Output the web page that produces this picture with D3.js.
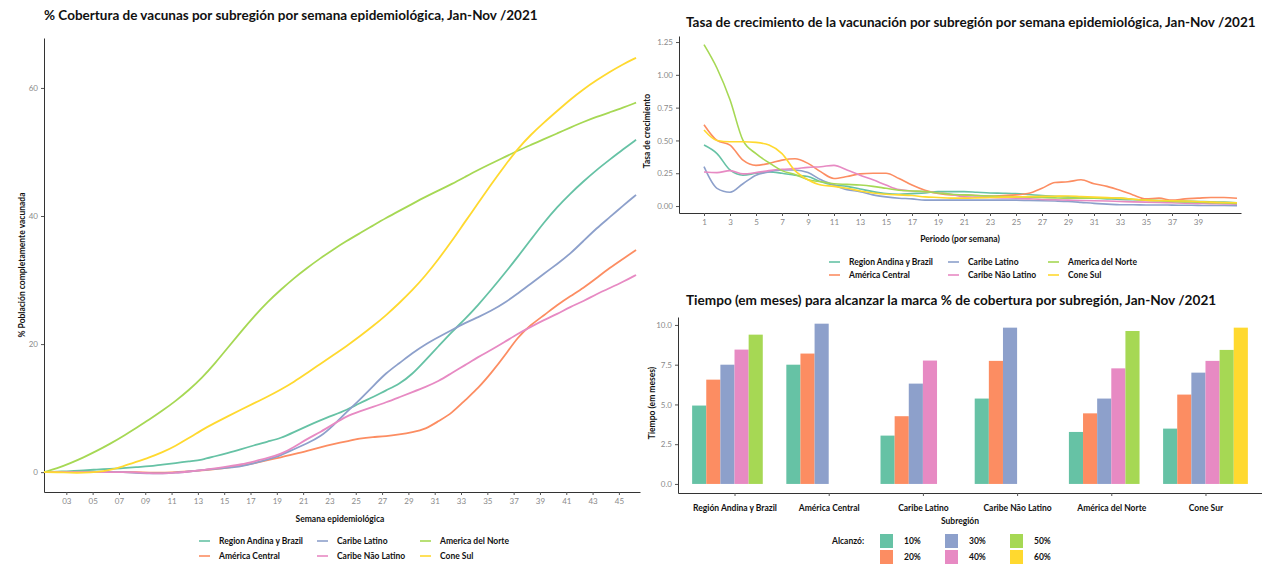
<!DOCTYPE html>
<html>
<head>
<meta charset="utf-8">
<script src="https://cdn.jsdelivr.net/npm/d3@7"></script>
<style>
  body { margin: 0; background: #fff; }
  svg text { font-family: Lato, "Open Sans", sans-serif; }
  .tick text { fill: #8a8a8a; font-size: 8px; }
  .tick line { stroke: #555; }
  .domain { stroke: #333; }
</style>
</head>
<body>
<div id="chart"></div>
<script>
// ---- data: cumulative coverage (%) by epidemiological week 1..46
const weeks = d3.range(1, 47);
const andina = [0, 0.1, 0.15, 0.3, 0.4, 0.5, 0.6, 0.8, 0.9, 1.2, 1.4, 1.7, 1.9, 2.5, 3.0, 3.6, 4.2, 4.8, 5.3, 6.25,
  7.2, 8.1, 8.9, 9.7, 10.8, 11.7, 12.8, 13.75, 15.3, 17.5, 19.7, 21.9, 23.9, 26.1, 28.5, 31.0, 33.6, 36.3, 39.0, 41.4,
  43.5, 45.4, 47.2, 48.8, 50.4, 51.9];
const central = [0, 0, 0, 0, 0, 0, 0, 0, -0.1, -0.1, 0, 0.1, 0.25, 0.5, 0.7, 1.0, 1.4, 1.9, 2.3, 2.8,
  3.3, 3.9, 4.4, 4.8, 5.3, 5.5, 5.6, 5.9, 6.25, 6.7, 8.0, 9.2, 11.25, 13.1, 15.5, 18.1, 21.1, 23.0, 24.5, 26.1,
  27.5, 28.75, 30.3, 31.9, 33.3, 34.7];
const caribeLatino = [0, 0, 0, 0, 0, 0.05, 0, -0.1, -0.2, -0.2, -0.1, 0.1, 0.3, 0.5, 0.7, 0.9, 1.4, 2.0, 2.6, 3.6,
  4.5, 5.5, 7.3, 9.4, 11.3, 13.4, 15.5, 17.0, 18.6, 20.0, 21.1, 22.2, 23.3, 24.2, 25.2, 26.4, 27.9, 29.4, 31.0, 32.5,
  34.1, 36.1, 38.1, 39.8, 41.6, 43.3];
const caribeNoLatino = [0, 0, 0, 0, 0, 0, 0, 0, -0.2, -0.2, -0.1, 0.1, 0.3, 0.6, 0.9, 1.2, 1.7, 2.2, 2.8, 3.9,
  5.2, 6.25, 7.5, 8.75, 9.5, 10.2, 10.9, 11.7, 12.5, 13.3, 14.2, 15.5, 16.7, 18.0, 19.1, 20.3, 21.6, 22.7, 23.75, 24.7,
  25.8, 26.7, 27.8, 28.75, 29.7, 30.8];
const norte = [0, 0.6, 1.4, 2.3, 3.3, 4.4, 5.6, 6.9, 8.2, 9.6, 11.1, 12.8, 14.7, 17.0, 19.5, 22.0, 24.4, 26.6, 28.5, 30.3,
  31.9, 33.4, 34.8, 36.1, 37.3, 38.5, 39.7, 40.8, 41.9, 43.0, 44.0, 45.0, 46.1, 47.2, 48.2, 49.2, 50.2, 51.1, 52.0, 52.9,
  53.8, 54.7, 55.5, 56.2, 56.9, 57.7];
const coneSul = [0, 0, -0.1, -0.1, 0, 0.3, 0.9, 1.6, 2.3, 3.1, 4.1, 5.3, 6.6, 7.7, 8.75, 9.8, 10.8, 11.8, 12.9, 14.1,
  15.5, 16.9, 18.3, 19.7, 21.2, 22.8, 24.5, 26.4, 28.4, 30.7, 33.3, 36.1, 39.1, 42.0, 45.0, 47.8, 50.5, 52.7, 54.6, 56.4,
  58.2, 59.8, 61.2, 62.5, 63.7, 64.7];

// ---- data: growth rate by period 1..42
const periods = d3.range(1, 43);
const rateAndina = [0.465, 0.40, 0.275, 0.235, 0.25, 0.26, 0.25, 0.235, 0.225, 0.185, 0.16, 0.15, 0.13, 0.11, 0.095, 0.09,
  0.095, 0.10, 0.11, 0.11, 0.11, 0.105, 0.10, 0.098, 0.095, 0.088, 0.08, 0.075, 0.07, 0.065, 0.06, 0.055, 0.05, 0.048,
  0.045, 0.042, 0.04, 0.038, 0.035, 0.032, 0.03, 0.025];
const rateCentral = [0.62, 0.50, 0.465, 0.35, 0.31, 0.325, 0.35, 0.36, 0.325, 0.26, 0.21, 0.225, 0.245, 0.25, 0.25, 0.21,
  0.16, 0.12, 0.095, 0.085, 0.085, 0.08, 0.076, 0.08, 0.085, 0.097, 0.135, 0.18, 0.185, 0.20, 0.17, 0.15, 0.12, 0.085,
  0.055, 0.06, 0.045, 0.055, 0.06, 0.065, 0.065, 0.06];
const rateCaribeLatino = [0.30, 0.135, 0.105, 0.17, 0.235, 0.26, 0.275, 0.275, 0.255, 0.20, 0.16, 0.125, 0.11, 0.085, 0.07,
  0.06, 0.055, 0.045, 0.045, 0.045, 0.045, 0.045, 0.045, 0.045, 0.045, 0.042, 0.04, 0.038, 0.035, 0.028, 0.02, 0.015,
  0.01, 0.01, 0.008, 0.008, 0.007, 0.006, 0.005, 0.004, 0.004, 0.003];
const rateCaribeNoLatino = [0.26, 0.255, 0.27, 0.245, 0.255, 0.27, 0.28, 0.285, 0.295, 0.30, 0.31, 0.275, 0.235, 0.20, 0.16,
  0.125, 0.115, 0.11, 0.10, 0.09, 0.07, 0.068, 0.065, 0.062, 0.06, 0.055, 0.05, 0.048, 0.045, 0.042, 0.04, 0.038, 0.035,
  0.032, 0.03, 0.028, 0.025, 0.022, 0.02, 0.018, 0.016, 0.015];
const rateNorte = [1.23, 1.05, 0.81, 0.50, 0.40, 0.33, 0.27, 0.24, 0.20, 0.185, 0.17, 0.165, 0.16, 0.15, 0.135, 0.12, 0.115,
  0.11, 0.10, 0.09, 0.085, 0.08, 0.076, 0.073, 0.07, 0.068, 0.065, 0.062, 0.06, 0.06, 0.06, 0.06, 0.06, 0.052, 0.045,
  0.04, 0.035, 0.032, 0.03, 0.026, 0.023, 0.02];
const rateConeSul = [0.58, 0.50, 0.49, 0.49, 0.485, 0.465, 0.40, 0.27, 0.20, 0.16, 0.15, 0.135, 0.115, 0.10, 0.09, 0.085,
  0.08, 0.07, 0.065, 0.06, 0.06, 0.062, 0.065, 0.068, 0.07, 0.072, 0.074, 0.075, 0.076, 0.072, 0.068, 0.064, 0.06, 0.052,
  0.045, 0.042, 0.04, 0.038, 0.035, 0.03, 0.027, 0.025];

// ---- data: months to reach coverage mark, by subregion
const subregiones = ["Región Andina y Brazil", "América Central", "Caribe Latino", "Caribe Não Latino", "América del Norte", "Cone Sur"];
const marcas = ["10%", "20%", "30%", "40%", "50%", "60%"];
const alc10 = [4.93, 7.5, 3.04, 5.37, 3.27, 3.48];
const alc20 = [6.56, 8.2, 4.26, 7.74, 4.44, 5.62];
const alc30 = [7.5, 10.08, 6.31, 9.83, 5.37, 7.0];
const alc40 = [8.45, null, 7.76, null, 7.27, 7.74];
const alc50 = [9.39, null, null, null, 9.62, 8.43];
const alc60 = [null, null, null, null, null, 9.83];

const seriesNames = ["Region Andina y Brazil", "América Central", "Caribe Latino", "Caribe Não Latino", "America del Norte", "Cone Sul"];
const palette = ["#66c2a5", "#fc8d62", "#8da0cb", "#e78ac3", "#a6d854", "#ffd92f"];
const color = d3.scaleOrdinal().domain(seriesNames).range(palette);

const svg = d3.select("#chart").append("svg")
  .attr("width", 1262).attr("height", 567);
svg.append("rect").attr("width", 1262).attr("height", 567).attr("fill", "#fff");

function title(x, y, txt, size) {
  svg.append("text").attr("x", x).attr("y", y).attr("dominant-baseline", "central")
    .style("font-weight", "bold").style("font-size", size + "px").attr("fill", "#111").text(txt);
}
function label(x, y, txt, rotate) {
  svg.append("text")
    .attr("transform", `translate(${x},${y})` + (rotate ? "rotate(-90)" : ""))
    .attr("text-anchor", "middle").attr("dominant-baseline", "central")
    .style("font-weight", "bold").style("font-size", "8.5px").attr("fill", "#111").text(txt);
}
function lineLegend(cols, rows) {
  seriesNames.forEach((name, i) => {
    const c = Math.floor(i / 2), r = i % 2;
    const g = svg.append("g").attr("transform", `translate(${cols[c]},${rows[r]})`);
    g.append("line").attr("x1", -20).attr("x2", -9).attr("stroke", color(name)).attr("stroke-width", 1.6);
    g.append("text").attr("dominant-baseline", "central").style("font-weight", "bold")
      .style("font-size", "8.5px").attr("fill", "#111").text(name);
  });
}

// =============== Left: coverage ===============
const coverage = [andina, central, caribeLatino, caribeNoLatino, norte, coneSul];
const xL = d3.scaleLinear().domain([1, 46.3]).range([44, 640]);
const yL = d3.scaleLinear().domain([-3.1, 67.8]).range([492, 38]);

svg.append("g").attr("transform", "translate(-4,492)")
  .call(d3.axisBottom(xL).tickValues(d3.range(3, 46, 2)).tickFormat(d3.format("02d")).tickSize(3).tickSizeOuter(0))
  .select(".domain").attr("transform", "translate(4,0)");
svg.append("g").attr("transform", "translate(44,0)")
  .call(d3.axisLeft(yL).tickValues([0, 20, 40, 60]).tickSize(3).tickSizeOuter(0));

const lineL = d3.line().x((d, i) => xL(weeks[i])).y(d => yL(d)).curve(d3.curveBasis);
svg.append("g").selectAll("path")
  .data(coverage)
  .join("path")
    .attr("d", d => lineL(d))
    .attr("fill", "none")
    .attr("stroke", (d, i) => color(seriesNames[i]))
    .attr("stroke-width", 1.8);

title(44, 15, "% Cobertura de vacunas por subregión por semana epidemiológica, Jan-Nov /2021", 13.5);
label(22, 265, "% Población completamente vacunada", true);
label(340, 519, "Semana epidemiológica");
lineLegend([219, 337, 440], [541, 556]);

// =============== Top right: growth rate ===============
const rates = [rateAndina, rateCentral, rateCaribeLatino, rateCaribeNoLatino, rateNorte, rateConeSul];
const xR = d3.scaleLinear().domain([1 - 25 / 13, 1 + 537 / 13]).range([679, 1241]);
const yR = d3.scaleLinear().domain([-0.053, 1.296]).range([213, 36]);

svg.append("g").attr("transform", "translate(0,213)")
  .call(d3.axisBottom(xR).tickValues(d3.range(1, 40, 2)).tickSize(3).tickSizeOuter(0));
svg.append("g").attr("transform", "translate(679,0)")
  .call(d3.axisLeft(yR).tickValues([0, 0.25, 0.5, 0.75, 1, 1.25]).tickFormat(d3.format(".2f")).tickSize(3).tickSizeOuter(0));

const lineR = d3.line().x((d, i) => xR(periods[i])).y(d => yR(d)).curve(d3.curveMonotoneX);
svg.append("g").selectAll("path")
  .data(rates)
  .join("path")
    .attr("d", d => lineR(d))
    .attr("fill", "none")
    .attr("stroke", (d, i) => color(seriesNames[i]))
    .attr("stroke-width", 1.6);

title(686, 22, "Tasa de crecimiento de la vacunación por subregión por semana epidemiológica, Jan-Nov /2021", 13.5);
label(647, 131, "Tasa de crecimiento", true);
label(960, 239, "Periodo (por semana)");
lineLegend([849, 968, 1068], [262, 275]);

// =============== Bottom right: months to reach mark ===============
const alcanzo = [alc10, alc20, alc30, alc40, alc50, alc60];
const xB = d3.scalePoint().domain(subregiones).range([678, 1262]).padding(0.6);
const inner = d3.scaleBand().domain(marcas).range([-0.45 * xB.step(), 0.45 * xB.step()]);
const yB = d3.scaleLinear().domain([-0.57, 10.5]).range([493, 317]);

const barData = [];
alcanzo.forEach((arr, m) => arr.forEach((v, s) => {
  if (v != null) barData.push({ sub: subregiones[s], marca: marcas[m], value: v });
}));

svg.append("g").selectAll("rect")
  .data(barData)
  .join("rect")
    .attr("x", d => xB(d.sub) + inner(d.marca))
    .attr("y", d => yB(d.value))
    .attr("width", inner.bandwidth())
    .attr("height", d => yB(0) - yB(d.value))
    .attr("fill", d => palette[marcas.indexOf(d.marca)]);

const axB = svg.append("g").attr("transform", "translate(0,493)")
  .call(d3.axisBottom(xB).tickSize(3).tickSizeOuter(0).tickPadding(9));
axB.selectAll(".tick text").style("fill", "#111").style("font-weight", "bold").style("font-size", "8.5px");
svg.append("g").attr("transform", "translate(678,0)")
  .call(d3.axisLeft(yB).tickValues([0, 2.5, 5, 7.5, 10]).tickFormat(d3.format(".1f")).tickSize(3).tickSizeOuter(0));

title(686, 300, "Tiempo (em meses) para alcanzar la marca % de cobertura por subregión, Jan-Nov /2021", 13.6);
label(652, 403, "Tiempo (em meses)", true);
label(960, 521, "Subregión");

svg.append("text").attr("x", 832).attr("y", 541).attr("dominant-baseline", "central")
  .style("font-weight", "bold").style("font-size", "8.5px").attr("fill", "#111").text("Alcanzó:");
marcas.forEach((m, i) => {
  const c = Math.floor(i / 2), r = i % 2;
  const g = svg.append("g").attr("transform", `translate(${880 + c * 65},${541 + r * 16})`);
  g.append("rect").attr("x", 0).attr("y", -7).attr("width", 13).attr("height", 14).attr("fill", palette[i]);
  g.append("text").attr("x", 24).attr("dominant-baseline", "central").style("font-weight", "bold")
    .style("font-size", "8.5px").attr("fill", "#111").text(m);
});
</script>
</body>
</html>
